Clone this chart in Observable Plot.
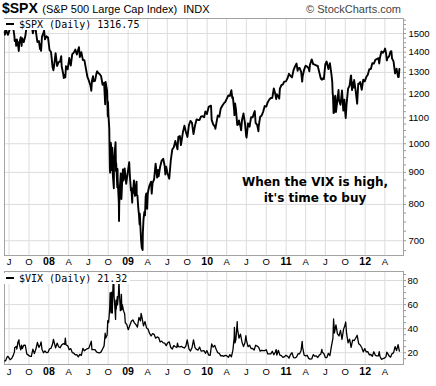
<!DOCTYPE html>
<html><head><meta charset="utf-8">
<script src="https://cdn.jsdelivr.net/npm/d3@7"></script>
<script src="https://cdn.jsdelivr.net/npm/@observablehq/plot@0.6"></script>
<style>
body{margin:0;background:#fff;}
#chart{position:relative;width:436px;height:386px;background:#fff;overflow:hidden;font-family:"Liberation Sans",Arial,sans-serif;}
#chart svg{position:absolute;left:0;}
.ov{position:absolute;white-space:pre;}
.leg{position:absolute;background:#fff;font-family:"DejaVu Sans Mono",monospace;font-size:10px;line-height:11px;padding:0 3px 0 1px;color:#000;white-space:pre;}
.leg .dash{display:inline-block;width:8px;height:2.5px;background:#000;vertical-align:middle;margin:0 5px 2px 1px;}
</style></head>
<body><div id="chart"></div>
<script>
// ---- data ----
const xTickDates = ["2007-07-01","2007-10-01","2008-01-01","2008-04-01","2008-07-01","2008-10-01","2009-01-01","2009-04-01","2009-07-01","2009-10-01","2010-01-01","2010-04-01","2010-07-01","2010-10-01","2011-01-01","2011-04-01","2011-07-01","2011-10-01","2012-01-01","2012-04-01"];
const xTickLabels = ["J","O","08","A","J","O","09","A","J","O","10","A","J","O","11","A","J","O","12","A"];
const spxTicks = [700,800,900,1000,1100,1200,1300,1400,1500];
const vixTicks = [20,40,60,80];

const spx = [
["2007-06-11",1509.1],["2007-06-12",1493.0],["2007-06-15",1532.9],["2007-06-22",1502.6],["2007-06-26",1492.9],["2007-06-29",1503.4],["2007-07-06",1530.4],["2007-07-13",1552.5],["2007-07-19",1553.1],["2007-07-20",1534.1],["2007-07-26",1482.7],["2007-07-27",1458.9],["2007-08-01",1465.8],["2007-08-03",1433.1],["2007-08-06",1467.7],["2007-08-09",1453.1],["2007-08-10",1453.6],["2007-08-15",1406.7],["2007-08-17",1445.9],["2007-08-24",1479.4],["2007-08-28",1432.4],["2007-08-31",1474.0],["2007-09-07",1453.6],["2007-09-14",1484.3],["2007-09-19",1529.0],["2007-09-21",1525.8],["2007-09-28",1526.8],["2007-10-05",1557.6],["2007-10-09",1565.2],["2007-10-12",1561.8],["2007-10-19",1500.6],["2007-10-26",1535.3],["2007-10-31",1549.4],["2007-11-02",1509.7],["2007-11-09",1453.7],["2007-11-16",1458.7],["2007-11-21",1416.8],["2007-11-23",1440.7],["2007-11-26",1407.2],["2007-11-30",1481.1],["2007-12-07",1504.7],["2007-12-10",1516.0],["2007-12-14",1468.0],["2007-12-21",1484.5],["2007-12-28",1478.5],
["2008-01-04",1411.6],["2008-01-11",1401.0],["2008-01-18",1325.2],["2008-01-22",1310.5],["2008-01-25",1330.6],["2008-02-01",1395.4],["2008-02-08",1331.3],["2008-02-15",1350.0],["2008-02-22",1353.1],["2008-02-27",1380.0],["2008-02-29",1330.6],["2008-03-07",1293.4],["2008-03-10",1273.4],["2008-03-14",1288.1],["2008-03-17",1276.6],["2008-03-20",1329.5],["2008-03-28",1315.2],["2008-04-04",1370.4],["2008-04-11",1332.8],["2008-04-18",1390.3],["2008-04-25",1397.8],["2008-05-02",1413.9],["2008-05-09",1388.3],["2008-05-19",1426.6],["2008-05-23",1375.9],["2008-05-30",1400.4],["2008-06-06",1360.7],["2008-06-13",1360.0],["2008-06-20",1317.9],["2008-06-27",1278.4],["2008-07-03",1262.9],["2008-07-11",1239.5],["2008-07-15",1214.9],["2008-07-18",1260.7],["2008-07-23",1282.2],["2008-07-25",1257.8],["2008-08-01",1260.3],["2008-08-08",1296.3],["2008-08-11",1305.3],["2008-08-15",1298.2],["2008-08-22",1292.2],["2008-08-29",1282.8],["2008-09-05",1242.3],["2008-09-12",1251.7],["2008-09-15",1192.7],["2008-09-17",1156.4],["2008-09-19",1255.1],["2008-09-26",1213.3],["2008-09-29",1106.4],["2008-09-30",1166.4],["2008-10-02",1114.3],["2008-10-03",1099.2],["2008-10-06",1056.9],["2008-10-07",996.2],["2008-10-09",909.9],["2008-10-10",899.2],["2008-10-13",1003.4],["2008-10-14",998.0],["2008-10-15",907.8],["2008-10-16",946.4],["2008-10-17",940.6],["2008-10-20",985.4],["2008-10-22",896.8],["2008-10-24",876.8],["2008-10-27",848.9],["2008-10-28",940.5],["2008-10-31",968.8],["2008-11-04",1005.8],["2008-11-06",904.9],["2008-11-07",931.0],["2008-11-12",852.3],["2008-11-13",911.3],["2008-11-14",873.3],["2008-11-19",806.6],["2008-11-20",752.4],["2008-11-21",800.0],["2008-11-24",851.8],["2008-11-28",896.2],["2008-12-01",816.2],["2008-12-05",876.1],["2008-12-08",909.7],["2008-12-11",873.6],["2008-12-16",913.2],["2008-12-23",863.2],["2008-12-31",903.3],
["2009-01-06",934.7],["2009-01-09",890.4],["2009-01-14",842.6],["2009-01-16",850.1],["2009-01-20",805.2],["2009-01-21",840.2],["2009-01-23",832.0],["2009-01-28",874.1],["2009-02-02",825.4],["2009-02-09",869.9],["2009-02-10",827.2],["2009-02-13",826.8],["2009-02-17",789.2],["2009-02-20",770.1],["2009-02-23",743.3],["2009-02-24",773.1],["2009-02-27",735.1],["2009-03-02",700.8],["2009-03-05",682.6],["2009-03-09",676.5],["2009-03-10",719.6],["2009-03-13",756.6],["2009-03-17",778.1],["2009-03-20",768.5],["2009-03-23",822.9],["2009-03-26",832.9],["2009-03-30",787.5],["2009-04-02",834.4],["2009-04-09",856.6],["2009-04-17",869.6],["2009-04-20",832.4],["2009-04-24",866.2],["2009-05-01",877.5],["2009-05-08",929.2],["2009-05-15",882.9],["2009-05-19",908.1],["2009-05-22",887.0],["2009-05-29",919.1],["2009-06-05",940.1],["2009-06-12",946.2],["2009-06-19",921.2],["2009-06-22",893.0],["2009-06-26",918.9],["2009-07-02",896.4],["2009-07-10",879.1],["2009-07-17",940.4],["2009-07-24",979.3],["2009-07-31",987.5],["2009-08-07",1010.5],["2009-08-17",979.7],["2009-08-21",1026.1],["2009-08-28",1028.9],["2009-09-02",994.8],["2009-09-11",1042.7],["2009-09-18",1068.3],["2009-09-25",1044.4],["2009-10-02",1025.2],["2009-10-09",1071.5],["2009-10-16",1087.7],["2009-10-23",1079.6],["2009-10-30",1036.2],["2009-11-06",1069.3],["2009-11-13",1093.5],["2009-11-20",1091.4],["2009-11-27",1091.5],["2009-12-04",1106.0],["2009-12-11",1106.4],["2009-12-18",1102.5],["2009-12-24",1126.5],["2009-12-31",1115.1],
["2010-01-08",1145.0],["2010-01-19",1150.2],["2010-01-22",1091.8],["2010-01-29",1073.9],["2010-02-05",1066.2],["2010-02-08",1056.7],["2010-02-12",1075.5],["2010-02-19",1109.2],["2010-02-26",1104.5],["2010-03-05",1138.7],["2010-03-12",1150.0],["2010-03-19",1159.9],["2010-03-26",1166.6],["2010-04-01",1178.1],["2010-04-09",1194.4],["2010-04-16",1192.1],["2010-04-23",1217.3],["2010-04-27",1183.7],["2010-04-30",1186.7],["2010-05-06",1128.2],["2010-05-07",1110.9],["2010-05-10",1159.7],["2010-05-14",1135.7],["2010-05-20",1071.6],["2010-05-25",1074.0],["2010-05-28",1089.4],["2010-06-04",1064.9],["2010-06-07",1050.5],["2010-06-11",1091.6],["2010-06-18",1117.5],["2010-06-25",1076.8],["2010-06-30",1030.7],["2010-07-02",1022.6],["2010-07-09",1078.0],["2010-07-16",1064.9],["2010-07-23",1102.7],["2010-07-30",1101.6],["2010-08-06",1121.6],["2010-08-09",1127.8],["2010-08-13",1079.3],["2010-08-20",1071.7],["2010-08-26",1047.2],["2010-08-27",1064.6],["2010-09-03",1104.5],["2010-09-10",1109.6],["2010-09-17",1125.6],["2010-09-24",1148.7],["2010-10-01",1146.2],["2010-10-08",1165.2],["2010-10-15",1176.2],["2010-10-22",1183.1],["2010-10-29",1183.3],["2010-11-05",1225.9],["2010-11-12",1199.2],["2010-11-16",1178.3],["2010-11-19",1199.7],["2010-11-26",1189.4],["2010-11-30",1180.6],["2010-12-03",1224.7],["2010-12-10",1240.4],["2010-12-17",1243.9],["2010-12-23",1256.8],["2010-12-31",1257.6],
["2011-01-07",1271.5],["2011-01-14",1293.2],["2011-01-21",1283.4],["2011-01-28",1276.3],["2011-02-04",1310.9],["2011-02-11",1329.2],["2011-02-18",1343.0],["2011-02-23",1307.4],["2011-02-25",1319.9],["2011-03-04",1321.2],["2011-03-11",1304.3],["2011-03-16",1256.9],["2011-03-18",1279.2],["2011-03-25",1313.8],["2011-04-01",1332.4],["2011-04-08",1328.2],["2011-04-15",1319.7],["2011-04-18",1305.1],["2011-04-21",1337.4],["2011-04-29",1363.6],["2011-05-06",1340.2],["2011-05-13",1337.8],["2011-05-20",1333.3],["2011-05-27",1331.1],["2011-06-03",1300.2],["2011-06-10",1271.0],["2011-06-15",1265.4],["2011-06-17",1271.5],["2011-06-24",1268.5],["2011-07-01",1339.7],["2011-07-07",1353.2],["2011-07-15",1316.1],["2011-07-22",1345.0],["2011-07-29",1292.3],["2011-08-02",1254.1],["2011-08-04",1200.1],["2011-08-05",1199.4],["2011-08-08",1119.5],["2011-08-09",1172.5],["2011-08-10",1120.8],["2011-08-12",1178.8],["2011-08-16",1192.8],["2011-08-19",1123.5],["2011-08-26",1176.8],["2011-08-31",1218.9],["2011-09-02",1174.0],["2011-09-09",1154.2],["2011-09-16",1216.0],["2011-09-22",1129.6],["2011-09-23",1136.4],["2011-09-27",1175.4],["2011-09-30",1131.4],["2011-10-03",1099.2],["2011-10-07",1155.5],["2011-10-14",1224.6],["2011-10-21",1238.3],["2011-10-27",1284.6],["2011-10-28",1285.1],["2011-11-01",1218.3],["2011-11-04",1253.2],["2011-11-09",1229.1],["2011-11-11",1263.9],["2011-11-18",1215.7],["2011-11-25",1158.7],["2011-11-30",1247.0],["2011-12-02",1244.3],["2011-12-09",1255.2],["2011-12-16",1219.7],["2011-12-23",1265.3],["2011-12-30",1257.6],
["2012-01-06",1277.8],["2012-01-13",1289.1],["2012-01-20",1315.4],["2012-01-27",1316.3],["2012-02-03",1344.9],["2012-02-10",1342.6],["2012-02-17",1361.2],["2012-02-24",1365.7],["2012-03-02",1369.6],["2012-03-06",1343.4],["2012-03-09",1370.9],["2012-03-16",1404.2],["2012-03-23",1397.1],["2012-03-30",1408.5],["2012-04-02",1419.0],["2012-04-06",1398.1],["2012-04-10",1358.6],["2012-04-13",1370.3],["2012-04-20",1378.5],["2012-04-27",1403.4],["2012-05-01",1405.8],["2012-05-04",1369.1],["2012-05-11",1353.4],["2012-05-18",1295.2],["2012-05-25",1317.8],["2012-06-01",1278.0],["2012-06-04",1278.2],["2012-06-07",1316.75]
];

const vix = [
["2007-06-11",13.2],["2007-06-15",13.3],["2007-06-22",16.4],["2007-06-26",17.0],["2007-06-29",16.2],["2007-07-06",14.2],["2007-07-13",15.2],["2007-07-20",17.6],["2007-07-26",20.7],["2007-07-27",24.2],["2007-08-03",25.2],["2007-08-06",23.1],["2007-08-09",26.5],["2007-08-10",28.2],["2007-08-16",30.7],["2007-08-17",27.3],["2007-08-24",22.4],["2007-08-28",26.3],["2007-08-31",23.4],["2007-09-07",26.2],["2007-09-14",26.2],["2007-09-21",19.0],["2007-09-28",18.0],["2007-10-05",17.0],["2007-10-12",17.0],["2007-10-19",23.0],["2007-10-26",19.3],["2007-11-02",23.0],["2007-11-09",28.5],["2007-11-16",24.4],["2007-11-23",26.8],["2007-11-26",28.9],["2007-11-30",22.9],["2007-12-07",20.0],["2007-12-14",21.5],["2007-12-21",20.0],["2007-12-28",20.3],
["2008-01-04",23.2],["2008-01-11",23.7],["2008-01-18",27.2],["2008-01-22",31.0],["2008-01-25",29.0],["2008-02-01",24.0],["2008-02-08",28.0],["2008-02-15",25.0],["2008-02-22",24.1],["2008-02-29",26.5],["2008-03-07",27.5],["2008-03-14",27.0],["2008-03-17",32.2],["2008-03-20",26.6],["2008-03-28",25.7],["2008-04-04",22.5],["2008-04-11",23.4],["2008-04-18",20.1],["2008-04-25",19.6],["2008-05-02",18.2],["2008-05-09",18.4],["2008-05-16",16.5],["2008-05-23",18.6],["2008-05-30",17.8],["2008-06-06",23.6],["2008-06-13",21.6],["2008-06-20",22.7],["2008-06-27",23.4],["2008-07-03",23.6],["2008-07-11",27.5],["2008-07-15",29.5],["2008-07-18",22.5],["2008-07-25",22.6],["2008-08-01",22.6],["2008-08-08",20.7],["2008-08-15",20.0],["2008-08-22",19.8],["2008-08-29",20.7],["2008-09-05",23.1],["2008-09-12",25.7],["2008-09-15",31.7],["2008-09-17",36.2],["2008-09-19",32.1],["2008-09-26",34.7],["2008-09-29",46.7],["2008-10-03",45.1],["2008-10-06",52.1],["2008-10-08",57.5],["2008-10-10",70.0],["2008-10-13",55.0],["2008-10-14",53.1],["2008-10-15",69.3],["2008-10-17",70.3],["2008-10-20",53.0],["2008-10-22",69.7],["2008-10-24",79.1],["2008-10-27",80.1],["2008-10-28",67.0],["2008-10-31",59.9],["2008-11-04",47.7],["2008-11-06",63.7],["2008-11-07",56.1],["2008-11-12",66.5],["2008-11-13",59.8],["2008-11-17",67.6],["2008-11-20",80.9],["2008-11-21",72.7],["2008-11-26",54.9],["2008-11-28",55.3],["2008-12-01",68.5],["2008-12-03",55.7],["2008-12-05",59.9],["2008-12-10",55.7],["2008-12-12",54.3],["2008-12-16",52.4],["2008-12-19",44.9],["2008-12-26",43.4],["2008-12-31",40.0],
["2009-01-02",39.2],["2009-01-09",42.8],["2009-01-16",46.1],["2009-01-23",47.3],["2009-01-30",44.8],["2009-02-06",43.4],["2009-02-13",41.3],["2009-02-20",49.3],["2009-02-27",46.4],["2009-03-02",52.7],["2009-03-06",49.3],["2009-03-13",42.4],["2009-03-20",45.9],["2009-03-27",40.6],["2009-04-03",39.7],["2009-04-09",36.5],["2009-04-17",33.9],["2009-04-24",35.8],["2009-05-01",35.3],["2009-05-08",32.1],["2009-05-15",33.1],["2009-05-22",32.6],["2009-05-29",28.9],["2009-06-05",29.6],["2009-06-12",28.2],["2009-06-19",28.0],["2009-06-26",25.9],["2009-07-02",28.0],["2009-07-10",29.0],["2009-07-17",24.3],["2009-07-24",23.1],["2009-07-31",25.9],["2009-08-07",25.0],["2009-08-14",24.3],["2009-08-17",28.0],["2009-08-21",25.0],["2009-08-28",24.8],["2009-09-04",25.3],["2009-09-11",24.4],["2009-09-18",23.9],["2009-09-25",25.6],["2009-10-01",30.7],["2009-10-09",23.1],["2009-10-16",21.4],["2009-10-23",24.1],["2009-10-30",30.7],["2009-11-06",24.2],["2009-11-13",22.7],["2009-11-20",22.2],["2009-11-27",24.7],["2009-12-04",21.3],["2009-12-11",21.6],["2009-12-18",21.7],["2009-12-24",19.5],["2009-12-31",21.7],
["2010-01-08",18.1],["2010-01-15",17.9],["2010-01-22",27.3],["2010-01-29",24.6],["2010-02-05",26.1],["2010-02-12",22.7],["2010-02-19",20.0],["2010-02-26",19.5],["2010-03-05",17.4],["2010-03-12",17.6],["2010-03-19",17.0],["2010-03-26",17.8],["2010-04-01",17.5],["2010-04-09",16.1],["2010-04-16",18.4],["2010-04-23",16.6],["2010-04-30",22.1],["2010-05-06",32.8],["2010-05-07",41.0],["2010-05-10",28.1],["2010-05-14",31.2],["2010-05-20",45.8],["2010-05-21",40.1],["2010-05-28",32.1],["2010-06-04",35.5],["2010-06-11",28.8],["2010-06-18",25.1],["2010-06-25",28.5],["2010-06-29",34.1],["2010-07-02",30.1],["2010-07-09",25.0],["2010-07-16",26.3],["2010-07-23",23.5],["2010-07-30",23.5],["2010-08-06",22.1],["2010-08-13",26.2],["2010-08-20",25.5],["2010-08-27",24.5],["2010-09-03",21.3],["2010-09-10",22.0],["2010-09-17",21.7],["2010-09-24",21.7],["2010-10-01",22.5],["2010-10-08",19.0],["2010-10-15",19.0],["2010-10-22",19.1],["2010-10-29",21.2],["2010-11-05",18.3],["2010-11-12",20.6],["2010-11-16",22.6],["2010-11-19",18.0],["2010-11-26",22.0],["2010-12-03",18.0],["2010-12-10",17.6],["2010-12-17",16.1],["2010-12-23",16.5],["2010-12-31",17.8],
["2011-01-07",17.1],["2011-01-14",15.5],["2011-01-21",18.5],["2011-01-28",20.0],["2011-02-04",15.9],["2011-02-11",15.7],["2011-02-18",16.4],["2011-02-25",19.2],["2011-03-04",19.1],["2011-03-11",21.9],["2011-03-16",29.4],["2011-03-18",24.4],["2011-03-25",17.9],["2011-04-01",17.4],["2011-04-08",17.9],["2011-04-15",15.3],["2011-04-21",14.7],["2011-04-29",14.8],["2011-05-06",18.4],["2011-05-13",17.1],["2011-05-20",17.4],["2011-05-27",16.0],["2011-06-03",18.0],["2011-06-10",18.9],["2011-06-15",22.7],["2011-06-17",20.3],["2011-06-24",19.3],["2011-07-01",15.9],["2011-07-08",16.0],["2011-07-15",19.5],["2011-07-22",17.5],["2011-07-29",25.3],["2011-08-05",32.0],["2011-08-08",48.0],["2011-08-10",43.0],["2011-08-12",36.4],["2011-08-19",43.1],["2011-08-26",35.6],["2011-09-02",33.9],["2011-09-09",38.5],["2011-09-16",31.0],["2011-09-23",39.4],["2011-09-30",43.0],["2011-10-03",45.5],["2011-10-07",36.2],["2011-10-14",28.2],["2011-10-21",31.3],["2011-10-28",24.5],["2011-11-04",30.5],["2011-11-11",30.0],["2011-11-18",32.0],["2011-11-25",34.5],["2011-12-02",27.5],["2011-12-09",26.4],["2011-12-16",24.3],["2011-12-23",20.7],["2011-12-30",23.4],
["2012-01-06",20.6],["2012-01-13",20.9],["2012-01-20",18.3],["2012-01-27",18.5],["2012-02-03",17.1],["2012-02-10",20.8],["2012-02-17",17.8],["2012-02-24",17.3],["2012-03-02",17.3],["2012-03-06",20.9],["2012-03-09",17.1],["2012-03-16",14.5],["2012-03-23",15.0],["2012-03-30",15.5],["2012-04-06",16.7],["2012-04-10",20.4],["2012-04-13",19.6],["2012-04-20",17.4],["2012-04-27",16.3],["2012-05-04",19.2],["2012-05-11",19.9],["2012-05-18",25.1],["2012-05-25",21.8],["2012-06-01",26.7],["2012-06-07",21.32]
];

// ---- build ----
const parse = s => new Date(s + "T00:00:00Z");
const xDomain = [parse("2007-06-10"), parse("2012-06-26")];
const xTicks = xTickDates.map((d, i) => ({date: parse(d), label: xTickLabels[i]}));
const spxData = spx.map(([d, v]) => ({date: parse(d), value: v}));
const vixData = vix.map(([d, v]) => ({date: parse(d), value: v}));
const gridCol = "#dcdcdc", frameCol = "#a3a3a3";
const plotStyle = {fontFamily: "'Liberation Sans', Arial, sans-serif", fontSize: "9.5px", background: "transparent", overflow: "visible", color: "#000"};

function xLabelMarks(dy) {
  return [
    Plot.text(xTicks.filter(d => d.label.length === 1), {x: "date", text: "label", frameAnchor: "bottom", dy, fontSize: 9.5}),
    Plot.text(xTicks.filter(d => d.label.length === 2), {x: "date", text: "label", frameAnchor: "bottom", dy, fontSize: 10.5, fontWeight: "bold"})
  ];
}
function yLabelMarks(ticks, dx) {
  return Plot.text(ticks, {y: d => d, text: d => String(d), frameAnchor: "right", textAnchor: "start", dx, fontSize: 9.5});
}

const spxPlot = Plot.plot({
  width: 436, height: 270,
  marginTop: 18, marginBottom: 15, marginLeft: 4, marginRight: 33,
  style: plotStyle,
  x: {type: "utc", domain: xDomain, axis: null},
  y: {type: "log", domain: [663, 1585], axis: null},
  marks: [
    Plot.ruleX(xTicks, {x: "date", stroke: gridCol, strokeWidth: 1}),
    Plot.ruleY(spxTicks, {stroke: gridCol, strokeWidth: 1}),
    Plot.frame({stroke: frameCol}),
    Plot.axisY(d3.range(675, 1586, 25), {anchor: "right", tickSize: 2, tickFormat: () => "", label: null, stroke: "#999"}),
    yLabelMarks(spxTicks, 5),
    Plot.line(spxData, {x: "date", y: "value", stroke: "#000", strokeWidth: 1.9}),
    ...xLabelMarks(9)
  ]
});

const vixPlot = Plot.plot({
  width: 436, height: 130,
  marginTop: 15, marginBottom: 22, marginLeft: 4, marginRight: 33,
  style: plotStyle,
  x: {type: "utc", domain: xDomain, axis: null},
  y: {type: "linear", domain: [10.2, 87.5], axis: null},
  marks: [
    Plot.ruleX(xTicks, {x: "date", stroke: gridCol, strokeWidth: 1}),
    Plot.ruleY(vixTicks, {stroke: gridCol, strokeWidth: 1}),
    Plot.frame({stroke: frameCol}),
    Plot.axisY(d3.range(15, 86, 5), {anchor: "right", tickSize: 2, tickFormat: () => "", label: null, stroke: "#999"}),
    yLabelMarks(vixTicks, 4),
    Plot.line(vixData, {x: "date", y: "value", stroke: "#000", strokeWidth: 1.3}),
    ...xLabelMarks(10)
  ]
});

const chartEl = document.getElementById("chart");
spxPlot.style.top = "0px";
vixPlot.style.top = "256px";
chartEl.appendChild(spxPlot);
chartEl.appendChild(vixPlot);

function overlay(html, css, cls) {
  const d = document.createElement("div");
  d.className = cls || "ov";
  d.innerHTML = html;
  Object.assign(d.style, css);
  chartEl.appendChild(d);
  return d;
}
// title row
overlay('<span style="font-weight:bold;font-size:14px">$SPX</span> <span style="font-size:11px">(S&amp;P 500 Large Cap Index)&nbsp; INDX</span>', {left: "2px", top: "0px", lineHeight: "15px"});
overlay('<span style="font-size:11px;color:#444">\u00A9 StockCharts.com</span>', {right: "35px", top: "0px", lineHeight: "15px"});
// legends
overlay('<span class="dash"></span>$SPX (Daily) 1316.75', {left: "4px", top: "19px"}, "leg");
overlay('<span class="dash"></span>$VIX (Daily) 21.32', {left: "4px", top: "273px"}, "leg");
// annotation
overlay("When the VIX is high,\nit's time to buy", {left: "235px", top: "174px", width: "160px", textAlign: "center", fontFamily: "'DejaVu Sans', Verdana, sans-serif", fontWeight: "bold", fontSize: "12px", lineHeight: "16px"});
</script>
</body></html>
